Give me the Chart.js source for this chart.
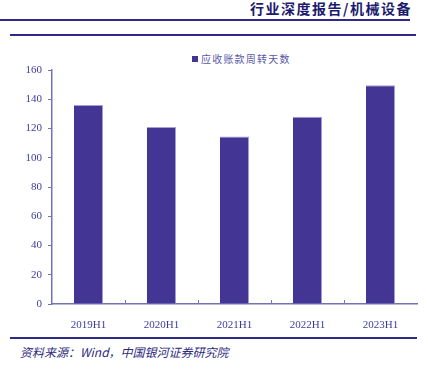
<!DOCTYPE html>
<html>
<head>
<meta charset="utf-8">
<script src="https://cdn.jsdelivr.net/npm/chart.js@4/dist/chart.umd.min.js"></script>
<style>
  body { margin: 0; background: #fff; }
  #page { position: relative; width: 428px; height: 369px; overflow: hidden; background: #fff; }
  #header { position: absolute; right: 16px; top: -2px; font: bold 14px "Noto Sans CJK SC", sans-serif; color: #1c1a6e; letter-spacing: 1.5px; }
  .rule { position: absolute; background: #2e2a8a; }
  #legend { position: absolute; left: 192px; top: 51px; font: 10px "Noto Sans CJK SC", sans-serif; color: #5858a8; letter-spacing: 1.2px; }
  #legend span { display: inline-block; width: 6px; height: 6px; background: #433594; margin-right: 3px; vertical-align: 1px; }
  #source { position: absolute; left: 20px; top: 343px; font: italic 12px "Noto Sans CJK SC", sans-serif; color: #2e2a80; }
  #wrap { position: absolute; left: 0; top: 40px; width: 428px; height: 290px; }
</style>
</head>
<body>
<div id="page">
  <div id="header">行业深度报告/机械设备</div>
  <div class="rule" style="left:0;top:19px;width:410px;height:1.5px;"></div>
  <div class="rule" style="left:10px;top:34px;width:406px;height:2px;"></div>
  <div id="legend"><span></span>应收账款周转天数</div>
  <div id="wrap"><canvas id="myChart" width="428" height="290"></canvas></div>
  <div class="rule" style="left:10px;top:337px;width:407px;height:2px;"></div>
  <div id="source">资料来源：Wind，中国银河证券研究院</div>
</div>
<script>
const categories = ["2019H1", "2020H1", "2021H1", "2022H1", "2023H1"];
const turnoverDays = [136, 121, 114.5, 128, 149.5];
const seriesName = "应收账款周转天数";

const axisColor = "#7272b8";
const labelColor = "#3c3c9c";

// x 轴刻度朝上画
const innerTicks = {
  id: "innerTicks",
  afterDraw(chart) {
    const x = chart.scales.x;
    const ctx = chart.ctx;
    const step = (x.right - x.left) / categories.length;
    ctx.save();
    ctx.strokeStyle = axisColor;
    ctx.lineWidth = 1;
    for (let i = 1; i < categories.length; i++) {
      const px = Math.round(x.left + i * step) + 0.5;
      ctx.beginPath();
      ctx.moveTo(px, x.top);
      ctx.lineTo(px, x.top - 4);
      ctx.stroke();
    }
    ctx.restore();
  },
};

new Chart(document.getElementById("myChart").getContext("2d"), {
  type: "bar",
  data: {
    labels: categories,
    datasets: [
      {
        label: seriesName,
        data: turnoverDays,
        backgroundColor: "#433594",
        borderColor: "#a69fd6",
        borderWidth: { top: 1, right: 1, left: 0, bottom: 0 },
        borderSkipped: false,
        categoryPercentage: 1,
        barPercentage: 0.4,
      },
    ],
  },
  options: {
    responsive: false,
    animation: false,
    devicePixelRatio: 1,
    layout: { padding: { top: 30, right: 11, left: 0, bottom: 0 } },
    plugins: { legend: { display: false }, tooltip: { enabled: false } },
    scales: {
      x: {
        offset: true,
        afterFit: (s) => { s.height = 26; },
        grid: { display: false },
        border: { color: axisColor, width: 1.5 },
        ticks: {
          color: labelColor,
          padding: 7,
          font: { family: "'Liberation Serif', serif", size: 11 },
          maxRotation: 0,
        },
      },
      y: {
        min: 0,
        max: 160,
        afterFit: (s) => { s.width = 52; },
        grid: { drawOnChartArea: false, drawTicks: true, tickLength: 4, color: axisColor },
        border: { color: axisColor, width: 1.5 },
        ticks: {
          stepSize: 20,
          color: labelColor,
          padding: 6,
          font: { family: "'Liberation Serif', serif", size: 11 },
        },
      },
    },
  },
  plugins: [innerTicks],
});
</script>
</body>
</html>
